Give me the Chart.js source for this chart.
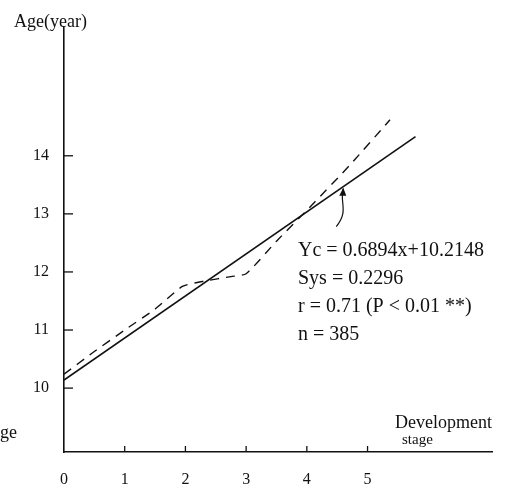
<!DOCTYPE html>
<html>
<head>
<meta charset="utf-8">
<script src="https://cdn.jsdelivr.net/npm/chart.js@4"></script>
<style>
  html, body { margin: 0; padding: 0; background: #fff; }
  #wrap { position: relative; width: 514px; height: 485px; }
</style>
</head>
<body>
<div id="wrap"><canvas id="ageChart" width="514" height="485"></canvas></div>
<script>
// development stage vs age
const obsStage = [0, 0.46, 1.0, 1.5, 1.95, 2.3, 2.75, 3.0, 3.5, 4.1, 4.7, 5.37];
const obsAge = [10.24, 10.6, 11.0, 11.36, 11.75, 11.84, 11.92, 11.97, 12.53, 13.17, 13.83, 14.62];
const fitStage = [0, 5.79];
const fitAge = [10.14, 14.33];
const xTicks = [0, 1, 2, 3, 4, 5];
const yTicks = [10, 11, 12, 13, 14];
const notes = ['Yc = 0.6894x+10.2148', 'Sys = 0.2296', 'r = 0.71 (P < 0.01 **)', 'n = 385'];

const serif = '"Liberation Serif", "DejaVu Serif", serif';

const toPts = (xs, ys) => xs.map((x, i) => ({ x: x, y: ys[i] }));

// small tick marks drawn inside the axes, plus the loose labels
const extras = {
  id: 'extras',
  afterDraw(chart) {
    const { ctx, scales: { x, y }, chartArea: a } = chart;
    ctx.save();
    ctx.strokeStyle = '#111';
    ctx.lineWidth = 1.3;
    yTicks.forEach(v => {
      const py = y.getPixelForValue(v);
      ctx.beginPath(); ctx.moveTo(a.left, py); ctx.lineTo(a.left + 9, py); ctx.stroke();
    });
    xTicks.slice(1).forEach(v => {
      const px = x.getPixelForValue(v);
      ctx.beginPath(); ctx.moveTo(px, a.bottom); ctx.lineTo(px, a.bottom - 6); ctx.stroke();
    });

    // curly pointer from the note up to the fitted line
    const tx = x.getPixelForValue(4.6);
    const ty = y.getPixelForValue(fitAge[0] + (fitAge[1] - fitAge[0]) / fitStage[1] * 4.6);
    ctx.lineWidth = 1.2;
    ctx.beginPath();
    ctx.moveTo(tx, ty + 2);
    ctx.bezierCurveTo(tx - 4, ty + 16, tx + 6, ty + 24, tx - 7, ty + 40);
    ctx.stroke();
    ctx.beginPath();
    ctx.moveTo(tx, ty + 1); ctx.lineTo(tx - 4, ty + 9); ctx.lineTo(tx + 3, ty + 9); ctx.closePath();
    ctx.fillStyle = '#111'; ctx.fill();

    ctx.fillStyle = '#111';
    ctx.textBaseline = 'alphabetic';
    ctx.font = '18px ' + serif;
    ctx.fillText('Age(year)', 14, 27);
    ctx.fillText('Development', 395, 428);
    ctx.fillText('ge', 0, 438);
    ctx.font = '15px ' + serif;
    ctx.fillText('stage', 402, 444);

    ctx.font = '20px ' + serif;
    notes.forEach((t, i) => ctx.fillText(t, 298, 256 + i * 28));
    ctx.restore();
  }
};

new Chart(document.getElementById('ageChart'), {
  type: 'scatter',
  data: {
    datasets: [
      {
        label: 'Observed',
        data: toPts(obsStage, obsAge),
        showLine: true,
        borderColor: '#111',
        borderWidth: 1.4,
        borderDash: [9, 7],
        pointRadius: 0,
        tension: 0.2
      },
      {
        label: 'Fitted',
        data: toPts(fitStage, fitAge),
        showLine: true,
        borderColor: '#111',
        borderWidth: 1.6,
        pointRadius: 0
      }
    ]
  },
  options: {
    responsive: false,
    animation: false,
    layout: { padding: { top: 28, right: 22, left: 0, bottom: 0 } },
    plugins: { legend: { display: false }, tooltip: { enabled: false } },
    scales: {
      x: {
        type: 'linear',
        min: 0,
        max: 7.05,
        afterBuildTicks: s => { s.ticks = xTicks.map(v => ({ value: v })); },
        afterFit: s => { s.height = 33; },
        grid: { display: true, drawOnChartArea: false, drawTicks: false },
        border: { display: true, color: '#111', width: 1.6 },
        ticks: { color: '#111', padding: 18, font: { family: serif, size: 16 } }
      },
      y: {
        type: 'linear',
        min: 8.9,
        max: 16.2,
        afterBuildTicks: s => { s.ticks = yTicks.map(v => ({ value: v })); },
        afterFit: s => { s.width = 64; },
        grid: { display: true, drawOnChartArea: false, drawTicks: false },
        border: { display: true, color: '#111', width: 1.6 },
        ticks: { color: '#111', padding: 15, font: { family: serif, size: 16 } }
      }
    }
  },
  plugins: [extras]
});
</script>
</body>
</html>
